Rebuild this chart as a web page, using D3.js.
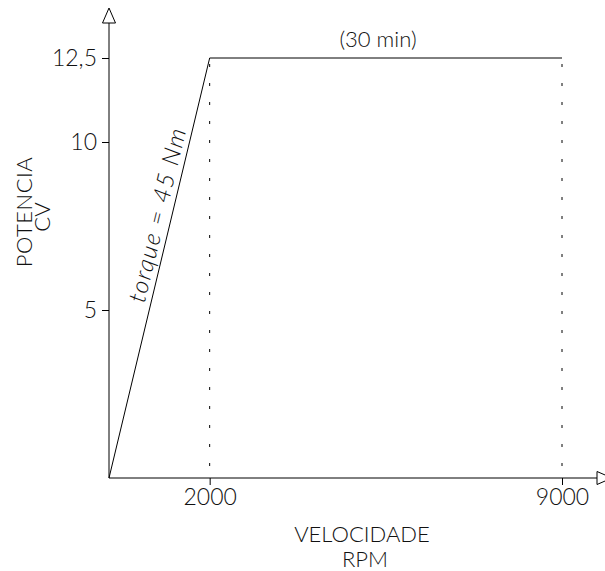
<!DOCTYPE html>
<meta charset="utf-8">
<style>
    body { margin: 0; background: #fff; }
    text { font-family: Lato, "Open Sans", sans-serif; font-weight: 300; fill: #111; }
    .axis line, .axis path { stroke: #000; }
</style>
<body>
<div id="chart"></div>
<script src="https://cdn.jsdelivr.net/npm/d3@7"></script>
<script>
    // curva de potencia
    var rpm = [0, 2000, 9000];
    var cv = [0, 12.5, 12.5];

    var xTicks = [2000, 9000];
    var xTickLabels = ["2000", "9000"];
    var yTicks = [5, 10, 12.5];
    var yTickLabels = ["5", "10", "12,5"];

    var width = 605,
        height = 571;

    var svg = d3.select("#chart").append("svg")
        .attr("width", width)
        .attr("height", height);

    var x = d3.scaleLinear().domain([0, 9000]).range([109, 562]);
    var y = d3.scaleLinear().domain([0, 12.5]).range([478, 58]);

    // eixos com setas
    svg.append("line")
        .attr("x1", x(0)).attr("y1", y(0))
        .attr("x2", 597).attr("y2", y(0))
        .attr("stroke", "#000");
    svg.append("path")
        .attr("d", "M597," + (y(0) - 6.5) + "L612," + y(0) + "L597," + (y(0) + 6.5) + "Z")
        .attr("fill", "#fff").attr("stroke", "#000");

    svg.append("line")
        .attr("x1", x(0)).attr("y1", y(0))
        .attr("x2", x(0)).attr("y2", 23)
        .attr("stroke", "#000");
    svg.append("path")
        .attr("d", "M" + (x(0) - 6.5) + ",23L" + x(0) + ",8L" + (x(0) + 6.5) + ",23Z")
        .attr("fill", "#fff").attr("stroke", "#000");

    var yAxis = svg.append("g")
        .attr("class", "axis")
        .attr("transform", "translate(" + x(0) + ",0)")
        .call(d3.axisLeft(y).tickValues(yTicks).tickSize(7).tickPadding(5)
            .tickFormat(function (d, i) { return yTickLabels[i]; }));
    yAxis.select(".domain").remove();
    yAxis.selectAll("text").style("font-size", "23px").attr("fill", "#111");

    var xAxis = svg.append("g")
        .attr("class", "axis")
        .attr("transform", "translate(0," + y(0) + ")")
        .call(d3.axisBottom(x).tickValues(xTicks).tickSize(7).tickPadding(4)
            .tickFormat(function (d, i) { return xTickLabels[i]; }));
    xAxis.select(".domain").remove();
    xAxis.selectAll("text").style("font-size", "23px").attr("fill", "#111");

    // linhas pontilhadas
    svg.selectAll(".guide")
        .data(xTicks)
        .enter().append("line")
        .attr("class", "guide")
        .attr("x1", function (d) { return x(d); })
        .attr("x2", function (d) { return x(d); })
        .attr("y1", y(12.5) + 6)
        .attr("y2", y(0))
        .attr("stroke", "#000")
        .attr("stroke-dasharray", "3,16");

    var line = d3.line()
        .x(function (d, i) { return x(rpm[i]); })
        .y(function (d) { return y(d); });

    svg.append("path")
        .datum(cv)
        .attr("d", line)
        .attr("fill", "none")
        .attr("stroke", "#000");

    // rotulos
    var ang = Math.atan2(y(12.5) - y(0), x(2000) - x(0)) * 180 / Math.PI;
    var tc = 7.74;
    svg.append("text")
        .attr("transform", "translate(" + x(tc / 12.5 * 2000) + "," + y(tc) + ") rotate(" + ang + ")")
        .attr("text-anchor", "middle")
        .attr("dy", -6)
        .style("font-size", "24px")
        .style("letter-spacing", "1.5px")
        .style("font-style", "italic")
        .text("torque = 45 Nm");

    svg.append("text")
        .attr("x", 378)
        .attr("y", 47)
        .attr("text-anchor", "middle")
        .style("font-size", "22px")
        .text("(30 min)");

    svg.append("text")
        .attr("x", 362).attr("y", 542)
        .attr("text-anchor", "middle")
        .style("font-size", "22px")
        .text("VELOCIDADE");
    svg.append("text")
        .attr("x", 365).attr("y", 567)
        .attr("text-anchor", "middle")
        .style("font-size", "22px")
        .text("RPM");

    svg.append("text")
        .attr("transform", "translate(32,212) rotate(-90)")
        .attr("text-anchor", "middle")
        .style("font-size", "22px")
        .style("letter-spacing", "0.5px")
        .text("POTENCIA");
    svg.append("text")
        .attr("transform", "translate(50,217) rotate(-90)")
        .attr("text-anchor", "middle")
        .style("font-size", "22px")
        .text("CV");
</script>
</body>
